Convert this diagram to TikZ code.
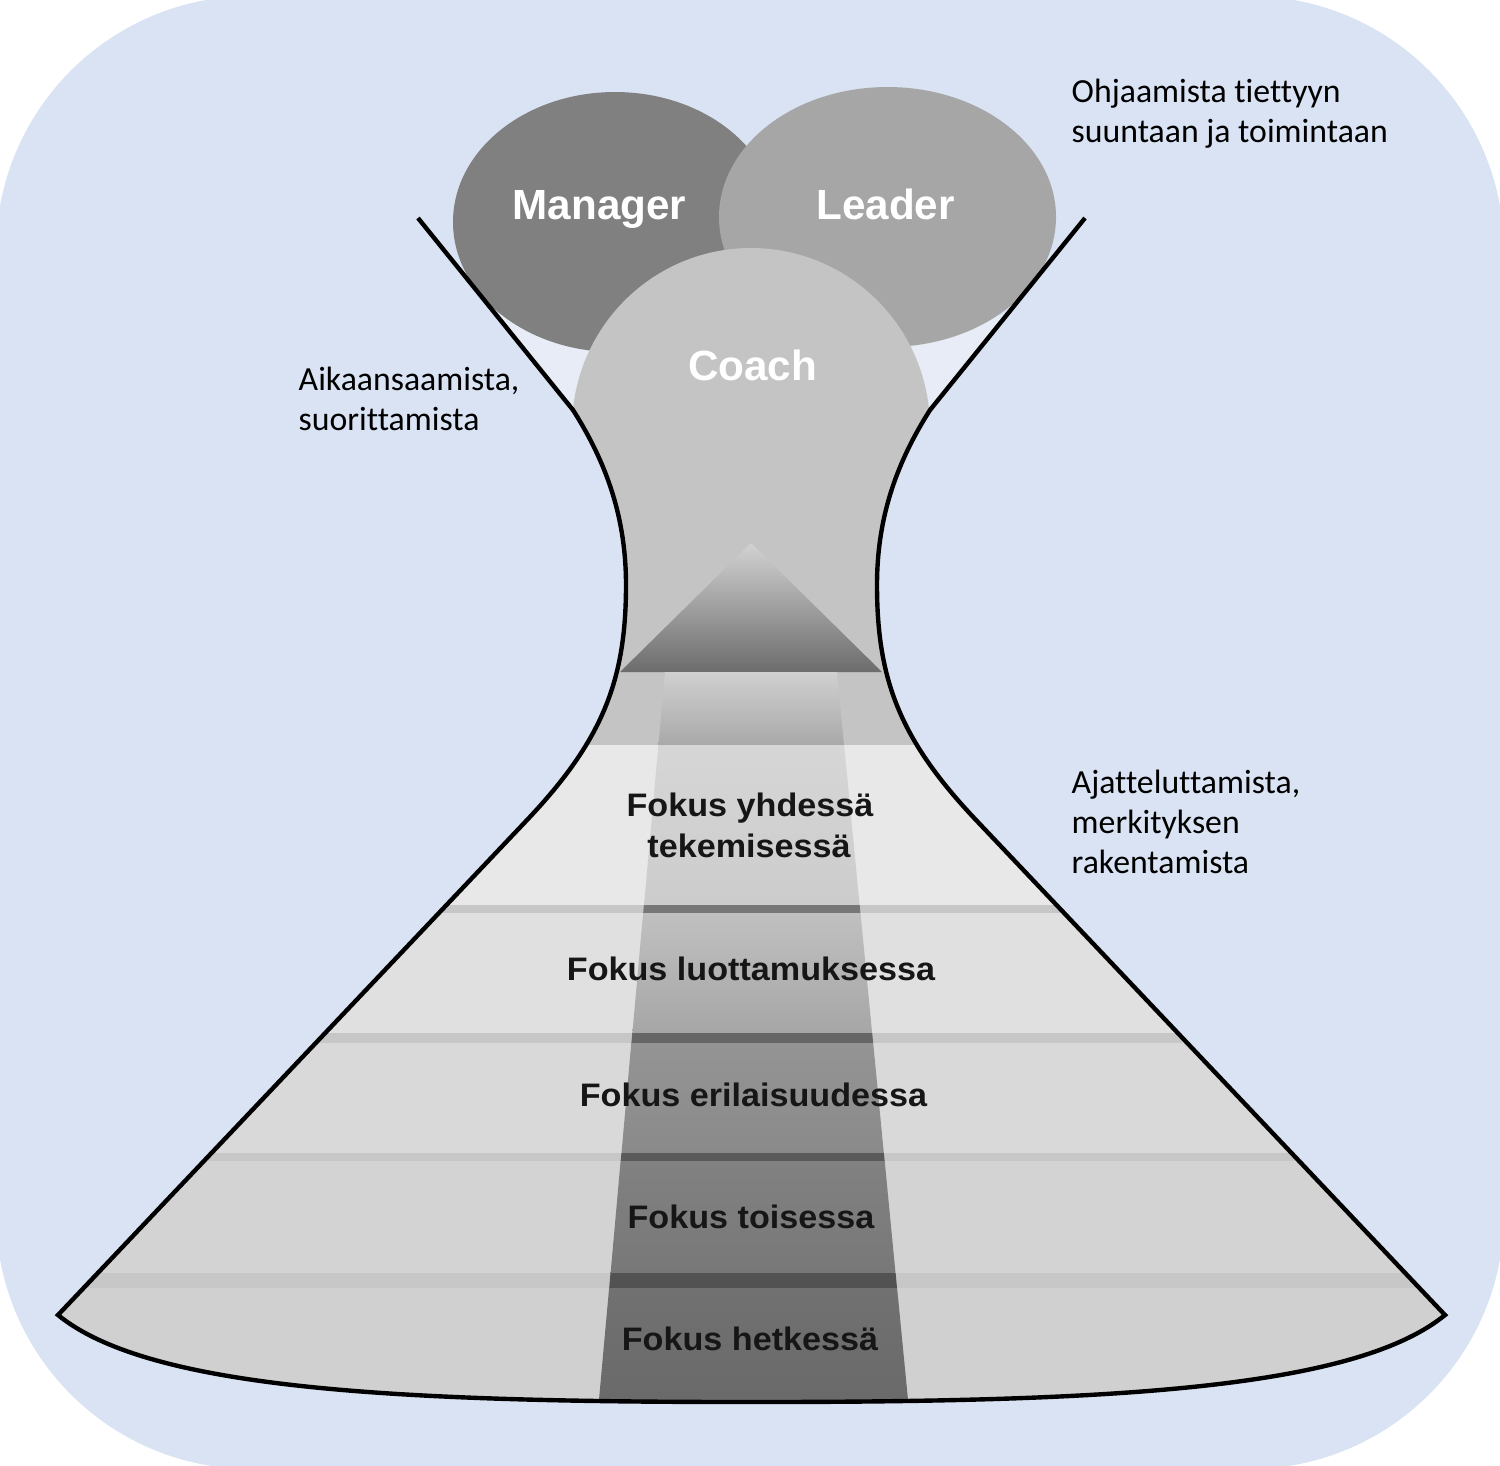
\documentclass[tikz,border=0pt]{standalone}
\usepackage{fontspec}
\setmainfont{Carlito}[Ligatures=NoCommon]
\newfontfamily\arialfont{Liberation Sans}
\newfontfamily\bandfont[FakeStretch=1.05]{Liberation Sans}
\definecolor{bg}{HTML}{DAE3F3}
\definecolor{lightpatch}{HTML}{E7ECF6}
\definecolor{mgr}{HTML}{808080}
\definecolor{ldr}{HTML}{A6A6A6}
\definecolor{coachgray}{HTML}{C4C4C4}
\definecolor{tritop}{HTML}{D2D2D2}
\definecolor{tribot}{HTML}{6C6C6C}
\definecolor{czerotop}{HTML}{D0D0D0}
\definecolor{czerobot}{HTML}{A8A8A8}
\definecolor{boneside}{HTML}{E8E8E8}
\definecolor{bonetop}{HTML}{D6D6D6}
\definecolor{bonebot}{HTML}{CCCCCC}
\definecolor{dvside}{HTML}{C7C7C7}
\definecolor{dvone}{HTML}{777777}
\definecolor{btwoside}{HTML}{E0E0E0}
\definecolor{btwotop}{HTML}{C0C0C0}
\definecolor{btwobot}{HTML}{A6A6A6}
\definecolor{dvtwo}{HTML}{666666}
\definecolor{bthreeside}{HTML}{D9D9D9}
\definecolor{bthreetop}{HTML}{949494}
\definecolor{bthreebot}{HTML}{8A8A8A}
\definecolor{dvthree}{HTML}{5A5A5A}
\definecolor{bfourside}{HTML}{D3D3D3}
\definecolor{bfourtop}{HTML}{818181}
\definecolor{bfourbot}{HTML}{787878}
\definecolor{dvfour}{HTML}{525252}
\definecolor{bfiveside}{HTML}{D0D0D0}
\definecolor{bfivetop}{HTML}{717171}
\definecolor{bfivebot}{HTML}{696969}
\definecolor{txtdark}{HTML}{161616}
\begin{document}
\begin{tikzpicture}[x=0.01cm, y=-0.01cm,
  annot/.style={font=\fontsize{9.6}{11.5}\selectfont, anchor=base west, inner sep=0pt, text=black},
  circlabel/.style={font=\arialfont\bfseries\fontsize{12}{14}\selectfont, text=white, anchor=base, inner sep=0pt},
  bandlabel/.style={font=\bandfont\bfseries\fontsize{9.25}{11}\selectfont, text=txtdark, anchor=base, inner sep=0pt},
  funnelline/.style={line width=1.25pt, draw=black}]
\useasboundingbox (0,0) rectangle (1500,1465);
% background
\fill[bg, rounded corners=2.55cm] (-4,-4) rectangle (1504,1469);
% light patch inside funnel
\begin{scope}
\clip (418,218) -- (573,410) .. controls (608,465) and (626,520) .. (626,585) .. controls (626,680) and (602.8,740) .. (527,820) -- (58,1315) .. controls (150,1390) and (400,1402) .. (751.5,1402) .. controls (1103,1402) and (1353,1390) .. (1445,1315) -- (976,820) .. controls (900.2,740) and (877,680) .. (877,585) .. controls (877,520) and (895,465) .. (930,410) -- (1085,218) -- cycle;
\fill[lightpatch] (0,315) rectangle (1500,700);
\end{scope}
% Manager and Leader
\fill[mgr] (615,222) ellipse [x radius=162, y radius=130];
\fill[ldr] (887.5,217) ellipse [x radius=168.5, y radius=130];
% Coach, neck and bands
\begin{scope}
\clip (418,218) -- (573,410) .. controls (608,465) and (626,520) .. (626,585) .. controls (626,680) and (602.8,740) .. (527,820) -- (58,1315) .. controls (150,1390) and (400,1402) .. (751.5,1402) .. controls (1103,1402) and (1353,1390) .. (1445,1315) -- (976,820) .. controls (900.2,740) and (877,680) .. (877,585) .. controls (877,520) and (895,465) .. (930,410) -- (1085,218) -- cycle;
\fill[coachgray] (751,428) ellipse [x radius=179, y radius=180];
\fill[coachgray] (400,428) rectangle (1100,747);
\shade[top color=tritop, bottom color=tribot] (751,543) -- (882,672) -- (620,672) -- cycle;
\shade[top color=czerotop, bottom color=czerobot] (665,672) -- (837,672) -- (844.1,746) -- (658.4,746) -- cycle;
% band 1
\fill[boneside] (0,745) rectangle (1500,1420);
\shade[top color=bonetop, bottom color=bonebot] (658.4,745) -- (844.1,745) -- (859.7,906) -- (643.9,906) -- cycle;
% divider 1
\fill[dvside] (0,905) rectangle (1500,1420);
\fill[dvone] (643.9,905) -- (859.7,905) -- (860.5,914) -- (643.1,914) -- cycle;
% band 2
\fill[btwoside] (0,913) rectangle (1500,1420);
\shade[top color=btwotop, bottom color=btwobot] (643.1,913) -- (860.5,913) -- (872.2,1034) -- (632.3,1034) -- cycle;
% divider 2
\fill[dvside] (0,1033) rectangle (1500,1420);
\fill[dvtwo] (632.3,1033) -- (872.2,1033) -- (873.2,1044) -- (631.3,1044) -- cycle;
% band 3
\fill[bthreeside] (0,1043) rectangle (1500,1420);
\shade[top color=bthreetop, bottom color=bthreebot] (631.3,1043) -- (873.2,1043) -- (883.9,1154) -- (621.4,1154) -- cycle;
% divider 3
\fill[dvside] (0,1153) rectangle (1500,1420);
\fill[dvthree] (621.4,1153) -- (883.9,1153) -- (884.7,1162) -- (620.6,1162) -- cycle;
% band 4
\fill[bfourside] (0,1161) rectangle (1500,1420);
\shade[top color=bfourtop, bottom color=bfourbot] (620.6,1161) -- (884.7,1161) -- (895.6,1274) -- (610.5,1274) -- cycle;
% divider 4
\fill[dvside] (0,1273) rectangle (1500,1420);
\fill[dvfour] (610.5,1273) -- (895.6,1273) -- (897.1,1289) -- (609.1,1289) -- cycle;
% band 5
\fill[bfiveside] (0,1288) rectangle (1500,1420);
\shade[top color=bfivetop, bottom color=bfivebot] (609.1,1288) -- (897.1,1288) -- (909.5,1415) -- (597.6,1415) -- cycle;
\end{scope}
% funnel outline
\draw[funnelline] (418,218) -- (573,410) .. controls (608,465) and (626,520) .. (626,585) .. controls (626,680) and (602.8,740) .. (527,820) -- (58,1315) .. controls (150,1390) and (400,1402) .. (751.5,1402) .. controls (1103,1402) and (1353,1390) .. (1445,1315) -- (976,820) .. controls (900.2,740) and (877,680) .. (877,585) .. controls (877,520) and (895,465) .. (930,410) -- (1085,218);
% circle labels
\node[circlabel] (manager) at (599.5,219) {Manager};
\node[circlabel] (leader) at (885.5,219) {Leader};
\node[circlabel] (coach) at (752.5,380) {Coach};
% band labels
\node[bandlabel] (fone) at (750,816) {Fokus yhdessä};
\node[bandlabel] (fonebis) at (749,857) {tekemisessä};
\node[bandlabel] (ftwo) at (751,980) {Fokus luottamuksessa};
\node[bandlabel] (fthree) at (753.5,1106) {Fokus erilaisuudessa};
\node[bandlabel] (ffour) at (751,1228) {Fokus toisessa};
\node[bandlabel] (ffive) at (750,1350) {Fokus hetkessä};
% annotations
\node[annot] (ohone) at (1071,102) {Ohjaamista tiettyyn};
\node[annot] (ohtwo) at (1071,142) {suuntaan ja toimintaan};
\node[annot] (aione) at (298,390) {Aikaansaamista,};
\node[annot] (aitwo) at (298,430) {suorittamista};
\node[annot] (ajone) at (1071,793) {Ajatteluttamista,};
\node[annot] (ajtwo) at (1071,833) {merkityksen};
\node[annot] (ajthree) at (1071,873) {rakentamista};
\end{tikzpicture}
\end{document}
